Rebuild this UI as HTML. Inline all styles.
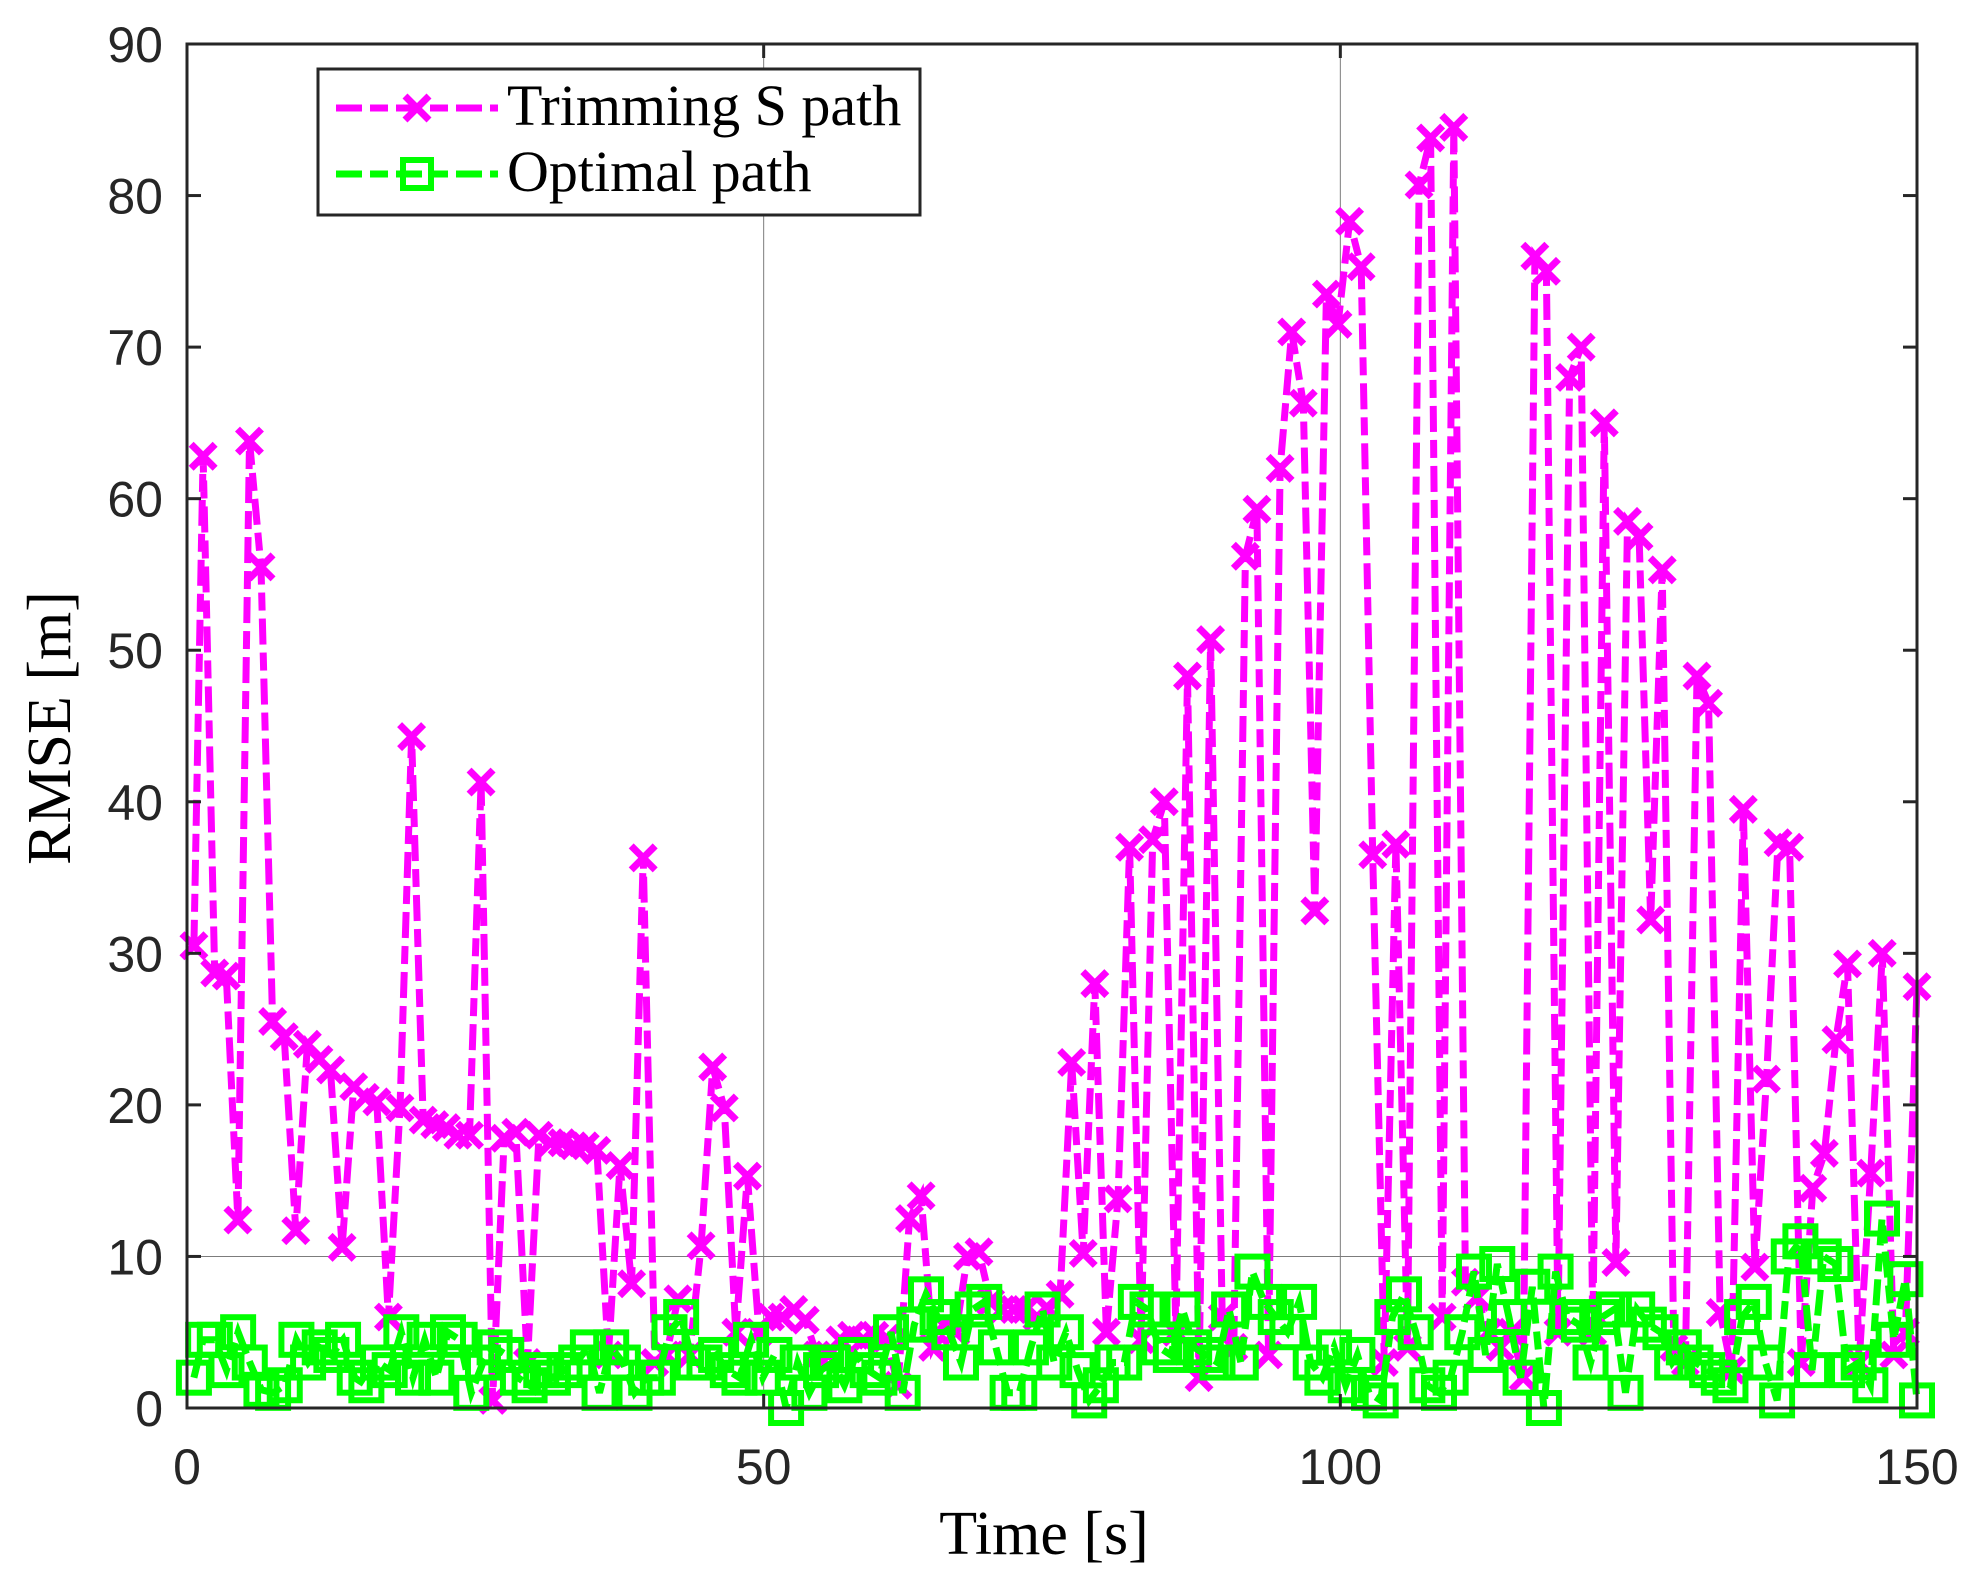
<!DOCTYPE html>
<html><head><meta charset="utf-8"><style>
html,body{margin:0;padding:0;background:#fff;}
svg{display:block;}
.t{font-family:"Liberation Sans",sans-serif;font-size:50px;fill:#262626;}
.s{font-family:"Liberation Serif",serif;fill:#000;}
</style></head><body>
<svg id="c" width="1980" height="1583" viewBox="0 0 1980 1583" xmlns="http://www.w3.org/2000/svg">
<rect width="1980" height="1583" fill="#fff"/>
<g id="grid" stroke="#262626" stroke-width="1" opacity="0.6"></g>
<g id="data"></g>
<g id="axes"></g>
<g id="legend">
<rect x="318" y="69" width="602" height="146" fill="#fff" stroke="#262626" stroke-width="3"/>
<line x1="336" y1="108" x2="498" y2="108" stroke="#ff00ff" stroke-width="7" stroke-dasharray="26 8 18 8"/>
<path d="M405 96 L429 120 M429 96 L405 120" stroke="#ff00ff" stroke-width="7"/>
<line x1="336" y1="174" x2="498" y2="174" stroke="#00ff00" stroke-width="7" stroke-dasharray="26 8 18 8"/>
<rect x="403" y="160" width="28" height="28" fill="none" stroke="#00ff00" stroke-width="6"/>
<text class="s" x="507" y="125" font-size="58">Trimming S path</text>
<text class="s" x="507" y="191" font-size="58">Optimal path</text>
</g>
<text class="s" x="1044" y="1554" font-size="62" text-anchor="middle">Time [s]</text>
<text class="s" x="0" y="0" font-size="62" text-anchor="middle" transform="translate(70,728) rotate(-90)">RMSE [m]</text>
</svg>
<script>
var L=187,R=1917,T=44,B=1408;
function X(t){return L+(R-L)*t/150;}
function Y(v){return B-(B-T)*v/90;}
var NS="http://www.w3.org/2000/svg";
function el(p,n,a){var e=document.createElementNS(NS,n);for(var k in a)e.setAttribute(k,a[k]);p.appendChild(e);return e;}
var g=document.getElementById('grid');
el(g,'line',{x1:X(50),y1:T,x2:X(50),y2:B});
el(g,'line',{x1:X(100),y1:T,x2:X(100),y2:B});
el(g,'line',{x1:L,y1:Y(10),x2:R,y2:Y(10)});
var m=[30.5,62.8,28.7,28.5,12.4,63.8,55.5,25.5,24.5,11.7,24,23,22.3,10.6,21.2,20.5,20.2,6,19.8,44.3,19,18.7,18.5,18,18,41.3,0.5,17.8,18.2,3,18,17.5,17.5,17.3,17.3,17,3.5,16,8.2,36.3,3,3.5,7.2,3.5,10.7,22.5,19.8,5,15.3,5,6,6,6.5,5.8,3.5,3.5,4.5,4.8,4.5,4.8,4.6,1.5,12.5,14,4,5.5,5,10,10.3,7,6.5,6.5,6.5,6,6.5,7.5,22.8,10.2,28,5,13.8,37,4.5,37.5,40,5,48.3,2,50.7,6,4,56.2,59.3,3.5,62,71,66.3,32.8,73.5,71.5,78.3,75.3,36.5,3,37.2,4,80.7,83.8,6,84.5,8.3,7.3,5,4,5,2,76,75,5,68,70,5,65,9.6,58.5,57.5,32.2,55.3,4,3,48.3,46.5,6.3,2.5,39.5,9.3,21.7,37.3,37,3,14.5,16.8,24.3,29.3,3,15.5,30,3.5,5,27.8];
var gr=[2,4.5,4.5,2.5,5,3,1.2,1,1.5,4.5,3,4,3.5,4.5,2,1.5,3,2.5,5,2,4.5,2,5,4.5,1,3,4,3.5,2,1.5,2.5,2,2.5,3,4,1,4,3,1,2,2,5,6,3,3,3.5,2.5,2,4.5,2,3.5,0,3,1,2.5,3,1.5,3.5,2.5,2,5,1,5.5,7.5,6,5,3,6.5,7,4,1,1,4,6.5,3,5,2.5,0.5,1.5,3,3,7,6.5,4,3.5,6.5,4,3.5,3,6.5,3,9,7,6,5,7,3,2,4,1.5,3.5,1,0.5,6,7.5,5,1.5,1,2,5,9,3.5,9.5,6,2,8,0,9,6,5.5,3,6,6.5,1,6.5,5.5,5,3,4,3,2.5,2,1.5,6,7,3,0.5,10,11,2.5,10,9.5,2.5,3,1.5,12.5,4.5,8.5,0.5];
var d=document.getElementById('data');
function series(vals,col,mk){
 var n=vals.length,pts=[];
 for(var i=0;i<n;i++){var t=(i==0)?0.6:(1+(149)*(i-1)/(n-2)+ (i<n-1?0.4*(1-(i-1)/(n-2)):0));pts.push([X(t),Y(vals[i])]);}
 el(d,'polyline',{points:pts.map(function(p){return p[0].toFixed(1)+','+p[1].toFixed(1)}).join(' '),fill:'none',stroke:col,'stroke-width':7,'stroke-dasharray':'26 8 18 8'});
 pts.forEach(function(p){
  if(mk=='x'){el(d,'path',{d:'M'+(p[0]-12)+' '+(p[1]-12)+' L'+(p[0]+12)+' '+(p[1]+12)+' M'+(p[0]+12)+' '+(p[1]-12)+' L'+(p[0]-12)+' '+(p[1]+12),stroke:col,'stroke-width':7});}
  else el(d,'rect',{x:p[0]-15,y:p[1]-15,width:30,height:30,fill:'none',stroke:col,'stroke-width':6});
 });
}
series(m,'#ff00ff','x');
series(gr,'#00ff00','s');
var a=document.getElementById('axes');
el(a,'rect',{x:L,y:T,width:R-L,height:B-T,fill:'none',stroke:'#262626','stroke-width':3});
for(var v=0;v<=90;v+=10){var y=Y(v);
 el(a,'line',{x1:L,y1:y,x2:L+14,y2:y,stroke:'#262626','stroke-width':3});
 el(a,'line',{x1:R,y1:y,x2:R-14,y2:y,stroke:'#262626','stroke-width':3});
 var tx=el(a,'text',{x:163,y:y+18,'class':'t','text-anchor':'end'});tx.textContent=v;}
for(var t=0;t<=150;t+=50){var x=X(t);
 el(a,'line',{x1:x,y1:B,x2:x,y2:B-14,stroke:'#262626','stroke-width':3});
 el(a,'line',{x1:x,y1:T,x2:x,y2:T+14,stroke:'#262626','stroke-width':3});
 var tx=el(a,'text',{x:x,y:1484,'class':'t','text-anchor':'middle'});tx.textContent=t;}
</script>
</body></html>
